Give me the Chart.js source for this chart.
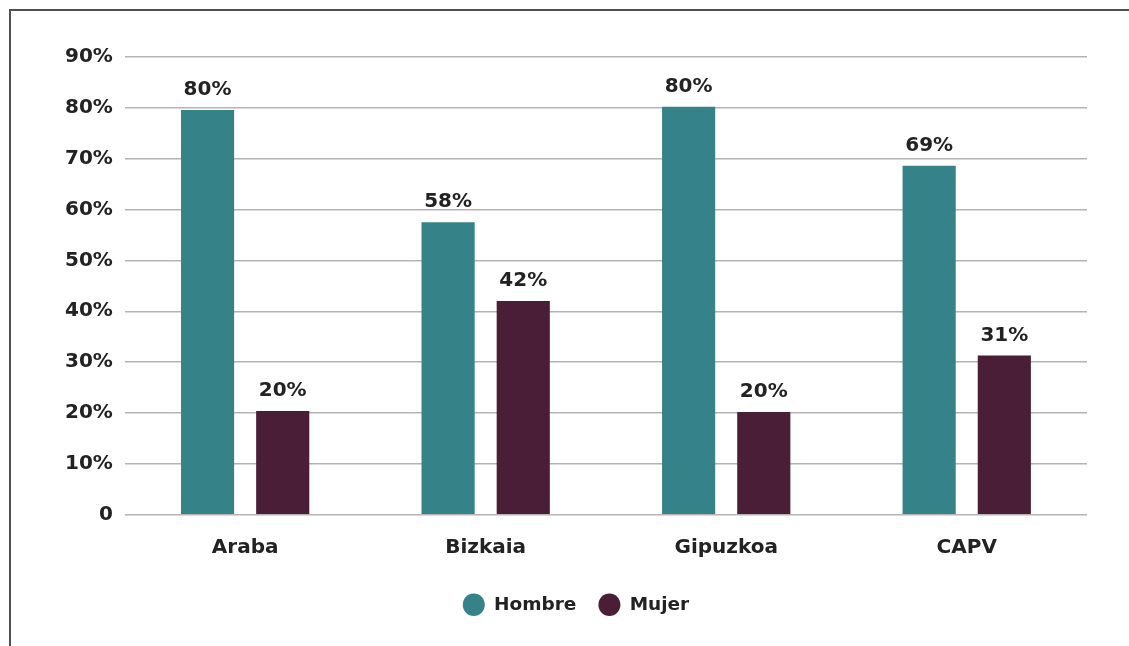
<!DOCTYPE html>
<html>
<head>
<meta charset="utf-8">
<script src="https://cdn.jsdelivr.net/npm/chart.js@4/dist/chart.umd.min.js"></script>
<style>
  html, body { margin: 0; padding: 0; background: #fff; }
  #wrap { position: relative; width: 1129px; height: 646px; overflow: hidden; }
  #frame { position: absolute; left: 9px; top: 9px; right: -5px; bottom: -5px;
           border-top: 2px solid #505050; border-left: 2px solid #505050; }
  canvas { position: absolute; left: 0; top: 0; }
</style>
</head>
<body>
<div id="wrap">
  <div id="frame"></div>
  <canvas id="chart" width="1129" height="646"></canvas>
</div>
<script>
// datos
const categorias = ['Araba', 'Bizkaia', 'Gipuzkoa', 'CAPV'];
const hombre = [79.6, 57.5, 80.2, 68.6];
const mujer = [20.4, 42.0, 20.2, 31.3];
const yMax = 90;
const yStep = 10;

const FONT = "'DejaVu Sans', sans-serif";

// etiquetas encima de las barras
const barLabels = {
  id: 'barLabels',
  afterLayout(chart) {
    // la leyenda del original esta algo desplazada a la derecha
    chart.legend.left += 6;
    chart.legend.right += 6;
  },
  afterDatasetsDraw(chart) {
    const ctx = chart.ctx;
    ctx.save();
    ctx.font = 'bold 20px ' + FONT;
    ctx.fillStyle = '#222';
    ctx.textAlign = 'center';
    ctx.textBaseline = 'alphabetic';
    chart.data.datasets.forEach((ds, i) => {
      chart.getDatasetMeta(i).data.forEach((bar, j) => {
        ctx.fillText(Math.round(ds.data[j]) + '%', bar.x, bar.y - 15);
      });
    });
    ctx.restore();
  }
};

new Chart(document.getElementById('chart'), {
  type: 'bar',
  data: {
    labels: categorias,
    datasets: [
      { label: 'Hombre', data: hombre, backgroundColor: '#358289' },
      { label: 'Mujer', data: mujer, backgroundColor: '#4a1e36' }
    ]
  },
  options: {
    responsive: false,
    animation: false,
    devicePixelRatio: 1,
    categoryPercentage: 0.625,
    barPercentage: 0.707,
    layout: { padding: { top: 57, right: 42, left: 53, bottom: 22 } },
    scales: {
      x: {
        grid: { display: false },
        border: { display: false },
        ticks: { color: '#222', font: { family: FONT, size: 20, weight: 'bold', lineHeight: 0.64 }, padding: 19 }
      },
      y: {
        min: 0,
        max: yMax,
        ticks: {
          stepSize: yStep,
          color: '#222',
          padding: 12,
          font: { family: FONT, size: 20, weight: 'bold' },
          callback: v => v === 0 ? '0' : v + '%'
        },
        grid: { color: '#b4b4b4', lineWidth: 1.5, drawTicks: false },
        border: { display: false }
      }
    },
    plugins: {
      legend: {
        position: 'bottom',
        labels: {
          usePointStyle: true,
          pointStyle: 'circle',
          pointStyleWidth: 22,
          boxHeight: 16,
          color: '#222',
          padding: 22,
          font: { family: FONT, size: 18.5, weight: 'bold' }
        }
      },
      tooltip: { enabled: false }
    }
  },
  plugins: [barLabels]
});
</script>
</body>
</html>
